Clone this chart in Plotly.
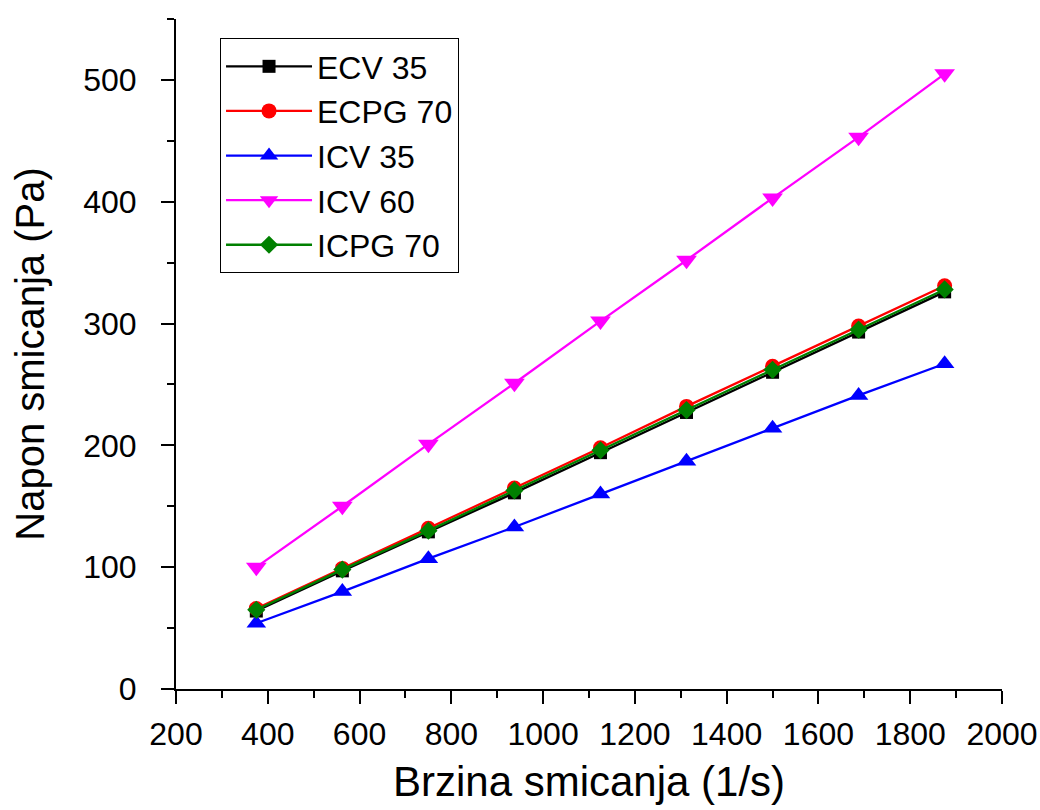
import plotly.graph_objects as go

shear_rate = [375, 562.5, 750, 937.5, 1125, 1312.5, 1500, 1687.5, 1875]
ecv35 = [64, 97, 129, 161, 194, 227, 260, 293, 326]
ecpg70 = [66, 99, 132, 165, 198, 232, 265, 298, 331]
icv35 = [54, 80, 107, 133, 160, 187, 214, 241, 267]
icv60 = [100, 150, 201, 251, 302, 352, 403, 453, 505]
icpg70 = [65, 98, 130, 163, 196, 229, 262, 295, 328]

series = [
    ("ECV 35", ecv35, "black", "square", 13),
    ("ECPG 70", ecpg70, "red", "circle", 15),
    ("ICV 35", icv35, "blue", "triangle-up", 17),
    ("ICV 60", icv60, "magenta", "triangle-down", 18),
    ("ICPG 70", icpg70, "green", "diamond", 14),
]

FONT = "Liberation Sans, Arial, sans-serif"

fig = go.Figure()
for name, ys, color, sym, sz in series:
    fig.add_trace(go.Scatter(
        x=shear_rate, y=ys, name=name, mode="lines+markers",
        line=dict(color=color, width=2.3),
        marker=dict(symbol=sym, size=sz, color=color, line=dict(width=0)),
    ))

axis_common = dict(
    showgrid=False, zeroline=False, showline=True, linecolor="black", linewidth=2,
    ticks="outside", ticklen=13, tickwidth=2, tickcolor="black",
    tickfont=dict(family=FONT, size=32, color="black"),
    automargin=False,
)

fig.update_xaxes(
    range=[200, 2000], dtick=200, tick0=200,
    minor=dict(ticks="outside", ticklen=7, tickwidth=2, tickcolor="black", dtick=100),
    title_text="Brzina smicanja (1/s)", title_standoff=15,
    title_font=dict(family=FONT, size=42, color="black"),
    ticklabelstandoff=3,
    **axis_common,
)
fig.update_yaxes(
    range=[0, 550], dtick=100, tick0=0,
    minor=dict(ticks="outside", ticklen=7, tickwidth=2, tickcolor="black", dtick=50),
    title_text="Napon smicanja (Pa)", title_standoff=26,
    title_font=dict(family=FONT, size=40, color="black"),
    ticklabelstandoff=18,
    **axis_common,
)

fig.update_layout(
    width=1040, height=810,
    margin=dict(l=176, r=38, t=19, b=121),
    plot_bgcolor="white", paper_bgcolor="white",
    font=dict(family=FONT, color="black"),
    legend=dict(
        x=0.0533, y=0.9716, xanchor="left", yanchor="top",
        bgcolor="white", bordercolor="black", borderwidth=1,
        font=dict(family=FONT, size=32, color="black"),
        itemwidth=86, tracegroupgap=0,
    ),
    showlegend=True,
)

fig.write_html("out.html")
